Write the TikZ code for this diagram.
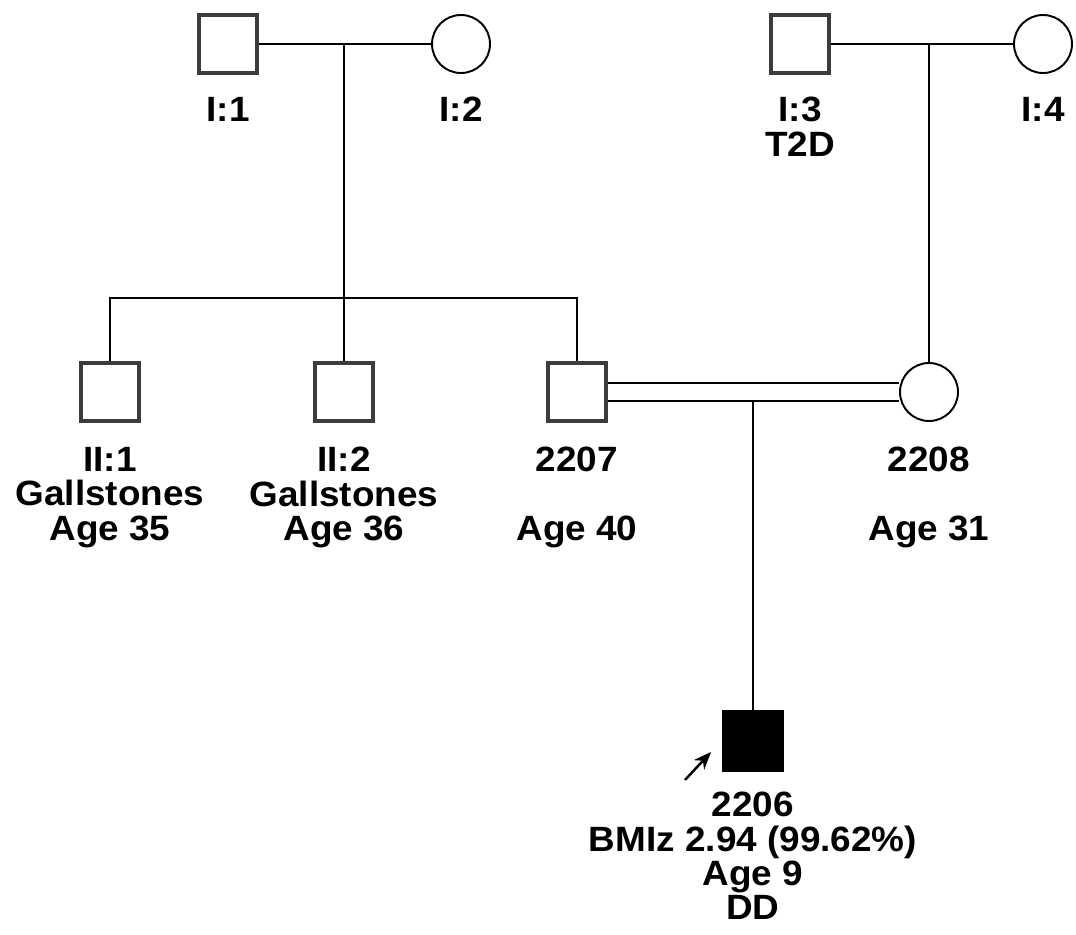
\documentclass[tikz,border=0pt]{standalone}
\usepackage{fontspec}
\setmainfont{Liberation Sans}[FakeStretch=1.05]
\usetikzlibrary{arrows.meta}
\definecolor{boxgray}{RGB}{60,60,60}
\tikzset{
  male/.style={draw=boxgray,line width=2.8pt,minimum size=1.16cm,inner sep=0pt,fill=white},
  female/.style={circle,draw,line width=1.1pt,minimum size=1.16cm,inner sep=0pt,fill=white},
  affected/.style={draw,fill=black,line width=1pt,minimum size=1.22cm,inner sep=0pt},
  lbl/.style={anchor=north,align=center,inner sep=0pt,font=\fontsize{20}{19.5}\selectfont\bfseries},
  link/.style={line width=1.1pt}
}

\begin{document}
\begin{tikzpicture}[x=0.02cm,y=-0.02cm]
    \useasboundingbox (0,0) rectangle (1076,934);
    % generation I
    \node[male] (p11) at (228,44) {};
    \node[female] (p12) at (461,44) {};
    \node[male] (p13) at (800,44) {};
    \node[female] (p14) at (1043,44) {};
    \node[lbl] (l11) at (228,97) {I:1};
    \node[lbl] (l12) at (461,97) {I:2};
    \node[lbl] (l13) at (800,97) {I:3\\T2D};
    \node[lbl] (l14) at (1043,97) {I:4};
    % generation II
    \node[male] (p21) at (110,392) {};
    \node[male] (p22) at (344,392) {};
    \node[male] (p2207) at (577,392) {};
    \node[female] (p2208) at (929,392) {};
    \node[lbl] (l21) at (110,447) {II:1\\Gallstones\\Age 35};
    \node[lbl] (l22) at (344,447) {II:2\\Gallstones\\Age 36};
    \node[lbl] (l2207) at (577,447) {2207\\[19.5pt]Age 40};
    \node[lbl] (l2208) at (929,447) {2208\\[19.5pt]Age 31};
    % proband
    \node[affected] (p2206) at (753,741) {};
    \node[lbl] (l2206) at (753,792) {2206\\BMIz 2.94 (99.62\%)\\Age 9\\DD};
    \coordinate (pr) at (685,780);
    \coordinate (pa) at (711,752);
    \draw[link,line width=1.4pt,-{Stealth[length=10pt,width=8pt]}] (pr) -- (pa);
    % matings
    \coordinate (m1) at (344,44);
    \coordinate (m3) at (929,44);
    \coordinate (m2) at (753,401);
    \draw[link] (p11.east) -- (p12.west);
    \draw[link] (p13.east) -- (p14.west);
    \draw[link] (m1) -- (p22.north);
    \draw[link] (p21.north) -- (p21.north |- 0,298) -- (p2207.north |- 0,298) -- (p2207.north);
    \draw[link] (m3) -- (p2208.north);
    \draw[link] ([yshift=0.18cm]p2207.east) -- ([yshift=0.18cm]p2208.west);
    \draw[link] ([yshift=-0.18cm]p2207.east) -- ([yshift=-0.18cm]p2208.west);
    \draw[link] (m2) -- (p2206.north);
\end{tikzpicture}
\end{document}
